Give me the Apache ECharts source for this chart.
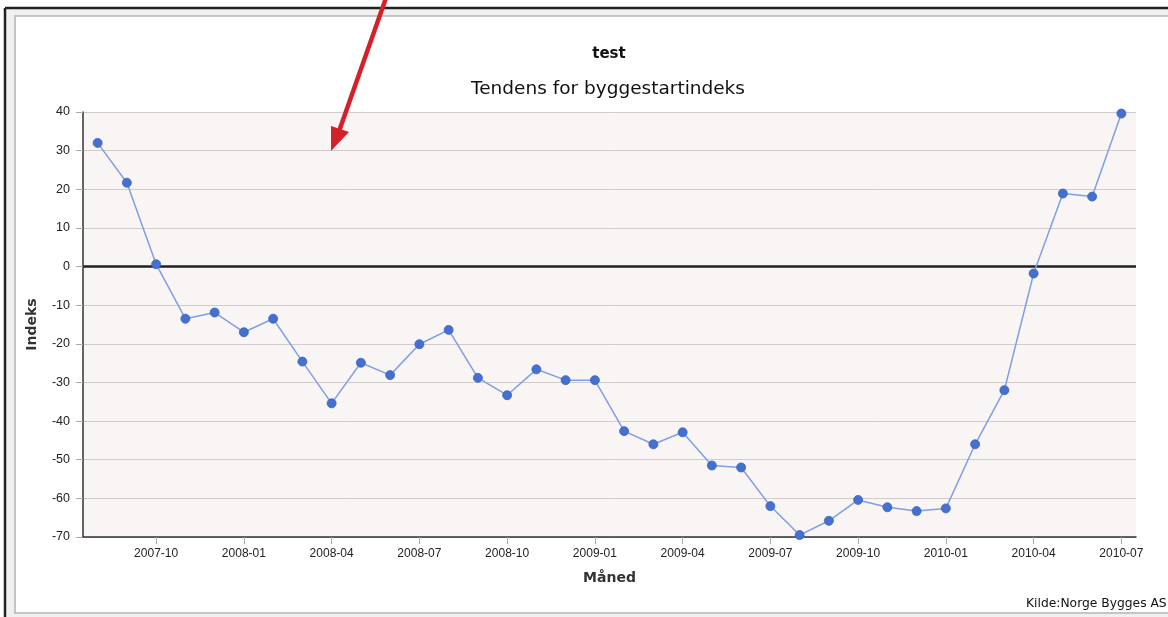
<!DOCTYPE html>
<html>
<head>
<meta charset="utf-8">
<script src="https://cdn.jsdelivr.net/npm/echarts@6/dist/echarts.min.js"></script>
<style>
html,body{margin:0;padding:0;background:#fff;}
#chart{width:1168px;height:617px;}
</style>
</head>
<body>
<div id="chart"></div>
<script>
const months = ['2007-08','2007-09','2007-10','2007-11','2007-12','2008-01','2008-02','2008-03','2008-04','2008-05','2008-06','2008-07','2008-08','2008-09','2008-10','2008-11','2008-12','2009-01','2009-02','2009-03','2009-04','2009-05','2009-06','2009-07','2009-08','2009-09','2009-10','2009-11','2009-12','2010-01','2010-02','2010-03','2010-04','2010-05','2010-06','2010-07'];
const indeks = [32.0,21.7,0.6,-13.5,-11.9,-17.0,-13.5,-24.6,-35.4,-24.9,-28.1,-20.1,-16.4,-28.8,-33.3,-26.6,-29.4,-29.4,-42.6,-46.0,-42.9,-51.5,-52.0,-62.0,-69.5,-65.8,-60.4,-62.3,-63.3,-62.6,-46.0,-32.0,-1.8,18.9,18.1,39.6];
const titleText = 'test';
const subtitleText = 'Tendens for byggestartindeks';
const yName = 'Indeks';
const xName = 'Måned';
const sourceText = 'Kilde:Norge Bygges AS';

const showLabel = (idx, val) => { const m = parseInt(val.slice(5), 10); return (m % 3) === 1; };

const chart = echarts.init(document.getElementById('chart'));
chart.setOption({
  animation: false,
  backgroundColor: '#fff',
  title: [
    {text: titleText, left: 604, textAlign: 'center', top: 42, textStyle: {fontFamily: 'DejaVu Sans', fontWeight: 'bold', fontSize: 15, color: '#111'}},
    {text: subtitleText, left: 603, textAlign: 'center', top: 75, textStyle: {fontFamily: 'DejaVu Sans', fontWeight: 'normal', fontSize: 18.5, color: '#111'}}
  ],
  grid: {left: 83, right: 32, top: 112, bottom: 80, show: true, backgroundColor: '#f8f5f4', borderWidth: 0},
  xAxis: {
    type: 'category', data: months, boundaryGap: true,
    name: xName, nameLocation: 'middle', nameGap: 34,
    nameTextStyle: {fontFamily: 'DejaVu Sans', fontWeight: 'bold', fontSize: 14, color: '#333'},
    axisLine: {onZero: false, lineStyle: {color: '#333', width: 1.5}},
    axisTick: {show: true, alignWithLabel: true, interval: showLabel, length: 7, lineStyle: {color: '#aaa'}},
    axisLabel: {interval: showLabel, margin: 11, fontFamily: 'Liberation Sans', fontSize: 12, color: '#222'},
    splitLine: {show: false}
  },
  yAxis: {
    type: 'value', min: -70, max: 40, interval: 10,
    name: yName, nameLocation: 'middle', nameGap: 44, nameRotate: 90,
    nameTextStyle: {fontFamily: 'DejaVu Sans', fontWeight: 'bold', fontSize: 14, color: '#333'},
    axisLine: {show: true, lineStyle: {color: '#333', width: 1.5}},
    axisTick: {show: true, length: 7, lineStyle: {color: '#aaa'}},
    axisLabel: {margin: 13, fontFamily: 'Liberation Sans', fontSize: 12.5, color: '#222'},
    splitLine: {show: true, lineStyle: {color: '#cfcccb', width: 1}}
  },
  series: [{
    type: 'line', data: indeks,
    symbol: 'circle', symbolSize: 9,
    lineStyle: {color: '#7f9fe2', width: 1.5},
    itemStyle: {color: '#4570cf', borderColor: '#3a62bf', borderWidth: 0.8},
    z: 5,
    markLine: {
      silent: true, symbol: 'none', label: {show: false},
      lineStyle: {color: '#222', width: 2.5, type: 'solid'},
      data: [{yAxis: 0}],
      z: 4
    }
  }],
  graphic: [
    {type: 'rect', shape: {x: 5, y: 8, width: 1170, height: 620}, style: {fill: '#f0f0f0', stroke: null}, z: -10, silent: true},
    {type: 'rect', shape: {x: 15, y: 16, width: 1160, height: 597}, style: {fill: '#fff', stroke: '#b4b4b4', lineWidth: 1.5}, z: -9, silent: true},
    {type: 'line', shape: {x1: 5, y1: 8, x2: 1168, y2: 8}, style: {stroke: '#222', lineWidth: 2.5}, z: -8, silent: true},
    {type: 'line', shape: {x1: 5, y1: 8, x2: 5, y2: 617}, style: {stroke: '#222', lineWidth: 2.5}, z: -8, silent: true},
    {type: 'text', left: 1026, top: 598, style: {text: sourceText, fontFamily: 'DejaVu Sans', fontSize: 12.3, fill: '#111'}, z: 10, silent: true},
    {type: 'line', shape: {x1: 386, y1: -2, x2: 337, y2: 137}, style: {stroke: '#d3202a', lineWidth: 4.5}, z: 20, silent: true},
    {type: 'polygon', shape: {points: [[331, 151], [331, 126], [349, 132]]}, style: {fill: '#d3202a'}, z: 20, silent: true}
  ]
});
</script>
</body>
</html>
